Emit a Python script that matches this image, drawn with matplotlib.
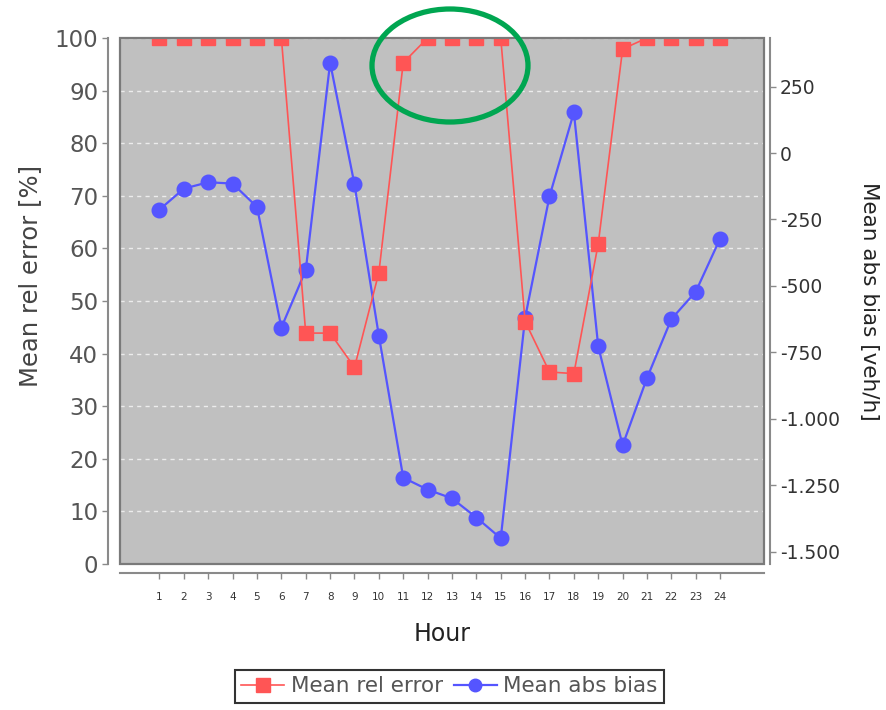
import matplotlib
matplotlib.use("Agg")
import matplotlib.pyplot as plt
from matplotlib.patches import Rectangle, Ellipse
from matplotlib.ticker import FuncFormatter

# Hourly error statistics
hours = list(range(1, 25))
mean_rel_error = [100, 100, 100, 100, 100, 100, 43.9, 43.9, 37.4, 55.4, 95.3, 100,
                  100, 100, 100, 46.1, 36.5, 36.2, 60.9, 97.9, 100, 100, 100, 100]
mean_abs_bias = [-213, -134, -110, -115, -203, -657, -441, 340, -118, -688, -1222, -1267,
                 -1300, -1372, -1450, -620, -163, 153, -728, -1100, -847, -625, -522, -322]

left_ticks = list(range(0, 101, 10))
right_ticks = [250, 0, -250, -500, -750, -1000, -1250, -1500]

RED = "#FF5555"
BLUE = "#5555FF"
TXT = "#555555"

W, H = 886, 710
fig = plt.figure(figsize=(W / 100, H / 100), dpi=100)
fig.patch.set_facecolor("white")

ax = fig.add_axes([120 / W, 1 - 564 / H, 644 / W, 526 / H])
ax2 = ax.twinx()

ax.set_facecolor("#C0C0C0")
ax.set_xlim(-0.62, 25.8)
ax.set_ylim(0, 100)
ax2.set_ylim(-1547, 433)

# plot border
ax.add_patch(Rectangle((0, 0), 1, 1, transform=ax.transAxes, fill=False,
                       edgecolor="#7a7a7a", lw=1.6, zorder=5, clip_on=False))

# grid
ax.set_axisbelow(True)
ax.yaxis.grid(True, color="#ececec", ls=(0, (3, 3)), lw=1.0)

# series: both drawn inside the primary axes so the red series stays on top
ax.plot(hours, mean_abs_bias, color=BLUE, lw=1.6, marker="o", markersize=10.5,
        transform=ax2.transData, zorder=3, label="Mean abs bias")
ax.plot(hours, mean_rel_error, color=RED, lw=1.2, marker="s", markersize=10.5,
        zorder=4, label="Mean rel error")

# spines
for s in ("top", "right"):
    ax.spines[s].set_visible(False)
for s in ("top", "left", "bottom"):
    ax2.spines[s].set_visible(False)
ax.spines["left"].set_position(("outward", 8.6))
ax.spines["bottom"].set_position(("outward", 6.5))
ax2.spines["right"].set_position(("outward", 4.3))
for sp in (ax.spines["left"], ax.spines["bottom"], ax2.spines["right"]):
    sp.set_color("#8a8a8a")
    sp.set_linewidth(1.5)

ax.set_yticks(left_ticks)
ax.tick_params(axis="y", labelsize=16.5, colors="#8a8a8a", labelcolor=TXT,
               length=4, width=1, pad=3)
ax.set_xticks(hours)
ax.tick_params(axis="x", labelsize=7.5, colors="#8a8a8a", labelcolor="#333333",
               length=4, width=1, pad=10)

ax2.set_yticks(right_ticks)
ax2.yaxis.set_major_formatter(FuncFormatter(lambda v, p: f"{int(v):,}".replace(",", ".")))
ax2.tick_params(axis="y", labelsize=13.5, colors="#8a8a8a", labelcolor="#333333",
                length=4, width=1, pad=3)

ax.set_ylabel("Mean rel error [%]", fontsize=17.5, color="#444444")
ax.yaxis.set_label_coords(-0.121, 0.548)
ax.set_xlabel("Hour", fontsize=17, color="#222222", labelpad=14)
ax2.set_ylabel("Mean abs bias [veh/h]", fontsize=15.5, color="#222222",
               rotation=-90, labelpad=28)

# legend
h_red = plt.Line2D([], [], color=RED, lw=1.2, marker="s", markersize=10)
h_blue = plt.Line2D([], [], color=BLUE, lw=1.6, marker="o", markersize=9)
leg = fig.legend([h_red, h_blue], ["Mean rel error", "Mean abs bias"],
                 loc="center", bbox_to_anchor=(449.5 / W, 1 - 686.5 / H), ncol=2,
                 fontsize=15.5, frameon=True, fancybox=False, edgecolor="black",
                 handlelength=2.0, handletextpad=0.3, columnspacing=0.5,
                 borderpad=0.3)
leg.get_frame().set_linewidth(1.5)
for t in leg.get_texts():
    t.set_color(TXT)

# highlight around the peak hours
fig.patches.append(Ellipse((450 / W, 1 - 65.5 / H), 156 / W, 113 / H,
                           transform=fig.transFigure, fill=False,
                           edgecolor="#00A651", lw=3.8))

fig.savefig("out.png", dpi=100)
